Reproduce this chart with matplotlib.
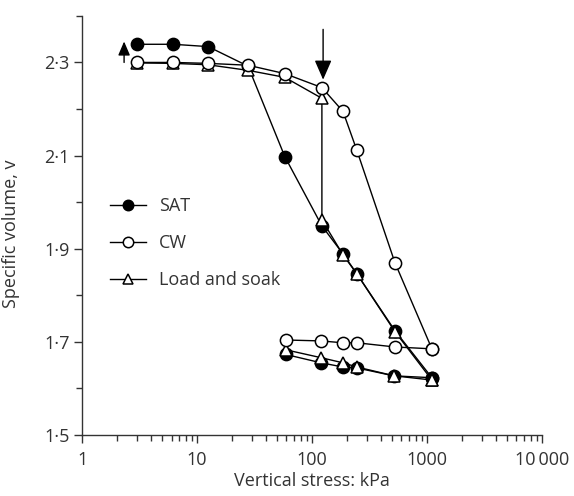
import numpy as np
import matplotlib.pyplot as plt
from matplotlib.ticker import FixedLocator, LogLocator, NullFormatter

plt.rcParams['font.family'] = ['Open Sans', 'DejaVu Sans']
plt.rcParams['font.size'] = 13

# saturated sample (load then unload)
sat_x = [3, 6.2, 12.5, 27.8, 58, 122, 186, 246, 527, 1105]
sat_y = [2.339, 2.339, 2.334, 2.292, 2.098, 1.949, 1.889, 1.846, 1.724, 1.623]
sat_ux = [1105, 515, 246, 186, 120, 59]
sat_uy = [1.623, 1.627, 1.644, 1.646, 1.655, 1.673]

# compacted wet sample
cw_x = [3, 6.2, 12.5, 27.8, 58, 122, 186, 246, 527, 1105]
cw_y = [2.300, 2.300, 2.298, 2.294, 2.276, 2.246, 2.195, 2.111, 1.870, 1.685]
cw_ux = [1105, 527, 246, 186, 120, 59]
cw_uy = [1.685, 1.689, 1.698, 1.698, 1.702, 1.704]

# load and soak sample
ls_x = [3, 6.2, 12.5, 27.8, 58, 122, 122, 186, 246, 527, 1105]
ls_y = [2.299, 2.298, 2.295, 2.283, 2.268, 2.223, 1.962, 1.887, 1.846, 1.722, 1.618]
ls_ux = [1105, 520, 246, 186, 120, 59]
ls_uy = [1.618, 1.627, 1.646, 1.655, 1.666, 1.683]

y_major = [1.5, 1.7, 1.9, 2.1, 2.3]
y_labels = ['1·5', '1·7', '1·9', '2·1', '2·3']
y_minor = [1.6, 1.8, 2.0, 2.2, 2.4]
x_major = [1, 10, 100, 1000, 10000]
x_labels = ['1', '10', '100', '1000', '10\u2009000']

fig = plt.figure(figsize=(5.74, 4.96), dpi=100)
ax = fig.add_axes([0.143, 0.123, 0.801, 0.845])

lk = dict(color='black', lw=1.0, markersize=8.8, markeredgewidth=1.1,
          markeredgecolor='black')

ax.plot(sat_x, sat_y, marker='o', markerfacecolor='black', zorder=2, label='SAT', **lk)
ax.plot(sat_ux, sat_uy, marker='o', markerfacecolor='black', zorder=2, **lk)
ax.plot(cw_x, cw_y, marker='o', markerfacecolor='white', zorder=4, label='CW', **lk)
ax.plot(cw_ux, cw_uy, marker='o', markerfacecolor='white', zorder=4, **lk)
ax.plot(ls_x, ls_y, marker='^', markerfacecolor='white', zorder=3, label='Load and soak', **lk)
ax.plot(ls_ux, ls_uy, marker='^', markerfacecolor='white', zorder=3, **lk)

# swelling arrow and soaking arrow
ax.annotate('', xy=(2.32, 2.345), xytext=(2.32, 2.30),
            arrowprops=dict(arrowstyle='-|>,head_width=0.3,head_length=0.7',
                            color='black', lw=1.0,
                            mutation_scale=12, shrinkA=0, shrinkB=0))
ax.annotate('', xy=(125, 2.263), xytext=(125, 2.371),
            arrowprops=dict(arrowstyle='-|>,head_width=0.35,head_length=0.8',
                            color='black', lw=1.0,
                            mutation_scale=15, shrinkA=0, shrinkB=0))

ax.set_xscale('log')
ax.set_xlim(1, 10000)
ax.set_ylim(1.5, 2.4)
ax.set_xticks(x_major)
ax.set_xticklabels(x_labels)
ax.xaxis.set_minor_locator(LogLocator(base=10, subs=np.arange(2, 10)))
ax.xaxis.set_minor_formatter(NullFormatter())
ax.set_yticks(y_major)
ax.set_yticklabels(y_labels)
ax.yaxis.set_minor_locator(FixedLocator(y_minor))

for s in ['top', 'right']:
    ax.spines[s].set_visible(False)
for s in ['left', 'bottom']:
    ax.spines[s].set_color('#333333')
    ax.spines[s].set_linewidth(1.0)
ax.tick_params(which='major', direction='out', length=5.5, width=1.0, color='#333333', labelcolor='#333333')
ax.tick_params(which='minor', direction='out', length=4, width=1.0, color='#333333')
ax.tick_params(axis='x', pad=6)

ax.set_xlabel('Vertical stress: kPa', color='#333333', labelpad=2)
ax.set_ylabel('Specific volume, v', color='#333333')
ax.yaxis.set_label_coords(-0.135, 0.48)

leg = ax.legend(loc='center left', bbox_to_anchor=(28 / 460, 0.458), frameon=False,
                borderpad=0, borderaxespad=0, handlelength=2.0, handletextpad=0.7,
                labelspacing=1.05, markerscale=0.85)
for t in leg.get_texts():
    t.set_color('#333333')

fig.savefig('out.png', dpi=100)
